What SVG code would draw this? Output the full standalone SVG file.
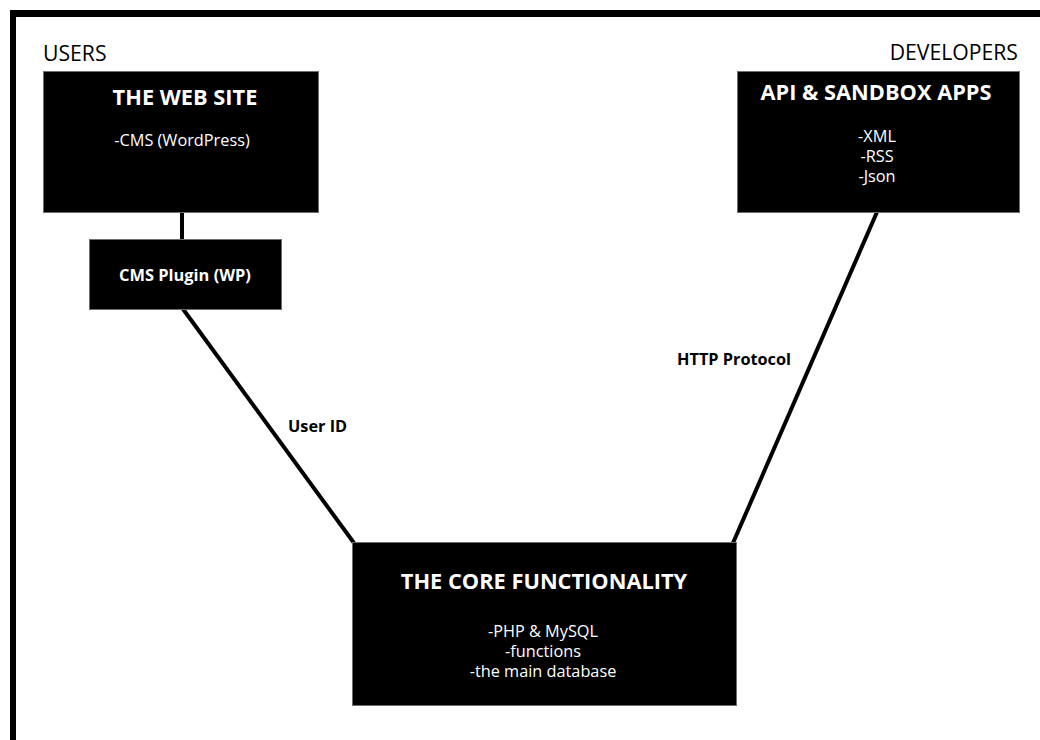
<svg xmlns="http://www.w3.org/2000/svg" width="1040" height="740" viewBox="0 0 1040 740">
<style>
.box{fill:#000;stroke:#6e6e6e;stroke-width:1}
.t{font-family:"Open Sans","Liberation Sans",sans-serif;fill:#fff;text-anchor:middle}
.h{font-weight:700;font-size:21.8px}
.b{font-size:16.3px}
.lab{font-family:"Open Sans","Liberation Sans",sans-serif;font-weight:700;font-size:16.3px;fill:#000}
.grp{font-family:"Open Sans","Liberation Sans",sans-serif;font-size:21.2px;fill:#000}
.ln{stroke:#000;stroke-width:4;fill:none}
</style>
<rect width="1040" height="740" fill="#fff"/>
<rect x="10" y="10" width="1030" height="7" fill="#000"/>
<rect x="10" y="10" width="6" height="730" fill="#000"/>
<text class="grp" x="43" y="61">USERS</text>
<text class="grp" x="1018" y="60" text-anchor="end">DEVELOPERS</text>
<g id="connectors">
<line class="ln" x1="182" y1="212" x2="182" y2="239"/>
<line class="ln" x1="183" y1="309" x2="354" y2="543"/>
<line class="ln" x1="877" y1="212" x2="733" y2="543"/>
<text class="lab" x="288" y="432">User ID</text>
<text class="lab" x="677" y="365">HTTP Protocol</text>
</g>
<g id="website">
<rect class="box" x="43.5" y="71.5" width="275" height="141"/>
<text class="t h" x="185" y="105">THE WEB SITE</text>
<text class="t b" x="182" y="146">-CMS (WordPress)</text>
</g>
<g id="plugin">
<rect class="box" x="89.5" y="239.5" width="192" height="70"/>
<text class="t" x="185" y="281" style="font-weight:700;font-size:16.4px">CMS Plugin (WP)</text>
</g>
<g id="api">
<rect class="box" x="737.5" y="71.5" width="282" height="141"/>
<text class="t h" x="876" y="100">API &amp; SANDBOX APPS</text>
<text class="t b" x="877" y="142">-XML</text>
<text class="t b" x="877" y="162">-RSS</text>
<text class="t b" x="877" y="182">-Json</text>
</g>
<g id="core">
<rect class="box" x="352.5" y="542.5" width="384" height="163"/>
<text class="t h" x="544" y="589">THE CORE FUNCTIONALITY</text>
<text class="t b" x="543" y="637">-PHP &amp; MySQL</text>
<text class="t b" x="543" y="657">-functions</text>
<text class="t b" x="543" y="677">-the main database</text>
</g>
</svg>
